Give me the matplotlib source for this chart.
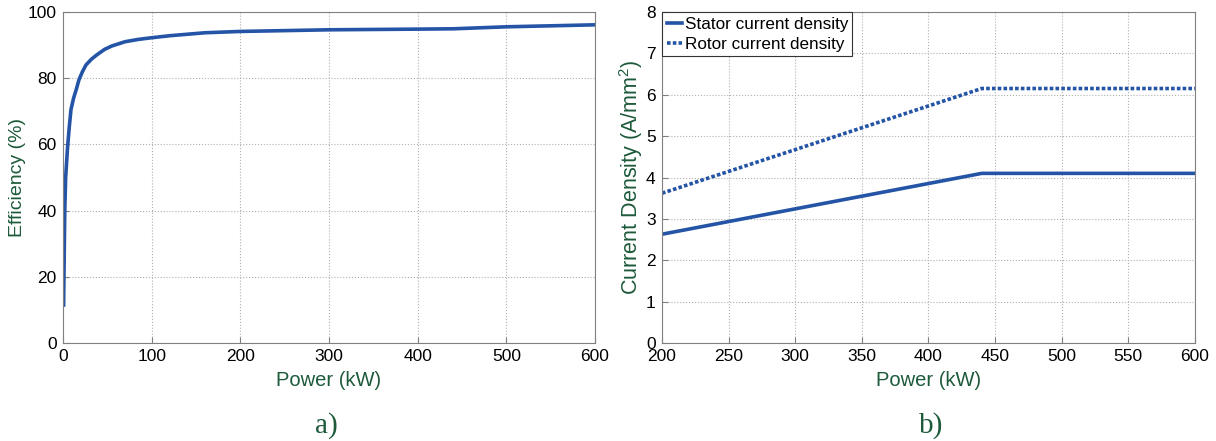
import numpy as np
import matplotlib.pyplot as plt

# efficiency vs power (left)
power_eff = [0.7, 2, 3, 5, 7, 9, 12, 15, 18, 22, 26, 32, 38, 47, 55, 70, 85, 100, 120,
             160, 200, 300, 400, 440, 500, 600]
efficiency = [11.5, 40, 50, 58.5, 65, 70.5, 74, 76.6, 79.5, 82, 84, 85.7, 87, 88.7, 89.7,
              91, 91.7, 92.2, 92.8, 93.7, 94.1, 94.6, 94.8, 94.9, 95.5, 96.1]

# current densities (right)
power_cd = [200, 440, 600]
stator_cd = [2.63, 4.1, 4.1]
rotor_cd = [3.62, 6.15, 6.15]

blue = '#2454a6'
green = '#1d5a3a'
plt.rcParams['font.family'] = ['Liberation Sans', 'DejaVu Sans']
plt.rcParams['mathtext.fontset'] = 'custom'
plt.rcParams['mathtext.rm'] = 'Liberation Sans'

fig = plt.figure(figsize=(12.16, 4.41), dpi=100)
ax1 = fig.add_axes([0.0518, 0.222, 0.4375, 0.751])
ax2 = fig.add_axes([0.5444, 0.222, 0.4383, 0.751])

ax1.plot(power_eff, efficiency, color=blue, lw=2.6)
ax1.set_xlim(0, 600)
ax1.set_ylim(0, 100)
ax1.set_xticks(range(0, 601, 100))
ax1.set_yticks(range(0, 101, 20))
ax1.set_xlabel('Power (kW)', color=green, fontsize=14.5, labelpad=5)
ax1.set_ylabel('Efficiency (%)', color=green, fontsize=14, labelpad=1)

ax2.plot(power_cd, stator_cd, color=blue, lw=2.6, label='Stator current density')
ax2.plot(power_cd, rotor_cd, color=blue, lw=2.6, ls=(0, (1, 0.6)), label='Rotor current density')
ax2.set_xlim(200, 600)
ax2.set_ylim(0, 8)
ax2.set_xticks(range(200, 601, 50))
ax2.set_yticks(range(0, 9))
ax2.set_xlabel('Power (kW)', color=green, fontsize=14.5, labelpad=5)
ax2.set_ylabel('Current Density (A/mm$\\mathregular{^2}$)', color=green, fontsize=15.5, labelpad=1)
leg = ax2.legend(loc='upper left', fontsize=12.3, fancybox=False, framealpha=1,
                 edgecolor='#333333', handlelength=0.9, handletextpad=0.15,
                 borderaxespad=0.02, borderpad=0.25, labelspacing=0.3)
leg.get_frame().set_linewidth(0.8)

for ax in (ax1, ax2):
    ax.grid(True, ls=':', color='#b0b0b0', lw=0.8)
    ax.tick_params(direction='in', labelsize=12.5, color='#808080', length=4, pad=4.5)
    for s in ax.spines.values():
        s.set_color('#808080')

fig.text(0.268, 0.018, 'a)', family='Liberation Serif', fontsize=21, color=green, ha='center')
fig.text(0.766, 0.018, 'b)', family='Liberation Serif', fontsize=21, color=green, ha='center')

plt.savefig('out.png', dpi=100)
